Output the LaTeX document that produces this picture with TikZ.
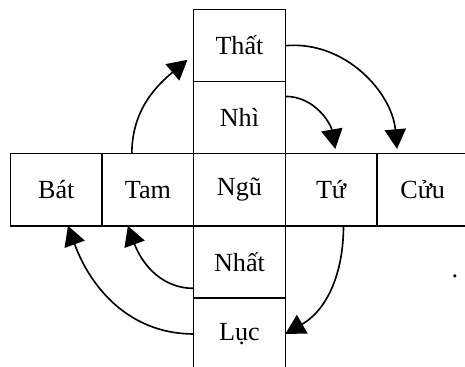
\documentclass[tikz,border=0pt]{standalone}
\usepackage{fontspec}
\setmainfont{Liberation Serif}
\usetikzlibrary{arrows.meta,positioning}

\begin{document}
\begin{tikzpicture}[font=\fontsize{16}{19}\selectfont,
  cell/.style={draw,line width=0.8pt,minimum width=1.97cm,
    minimum height=1.55cm,inner sep=0pt,outer sep=0pt},
  jump/.style={line width=1pt,-{Triangle[length=12pt,width=13pt]}}]
  \useasboundingbox (0,0) rectangle (10,7.892);
  % middle row
  \node[cell] (ngu) at (5.15,3.81) {Ngũ};
  \node[cell,left=0pt of ngu] (tam) {Tam};
  \node[cell,left=0pt of tam] (bat) {Bát};
  \node[cell,right=0pt of ngu] (tu) {Tứ};
  \node[cell,right=0pt of tu] (cuu) {Cửu};
  % middle column
  \node[cell,above=0pt of ngu] (nhi) {Nhì};
  \node[cell,above=0pt of nhi] (that) {Thất};
  \node[cell,below=0pt of ngu] (nhat) {Nhất};
  \node[cell,below=0pt of nhat] (luc) {Lục};
  \node (dot) at (9.78,1.95) {.};
  % moves
  \draw[jump,shorten >=5pt] (tam.114) to[out=90,in=220] (that.191);
  \draw[jump,shorten >=3pt] (that.east) to[out=5,in=95] (cuu.125);
  \draw[jump,shorten >=3pt] (nhi.25) to[out=0,in=100] (tu.82);
  \draw[jump] (tu.-71) to[out=-90,in=30] (luc.east);
  \draw[jump] (nhat.210) to[out=180,in=-70] (tam.241);
  \draw[jump] (luc.west) to[out=180,in=-70] (bat.288);
\end{tikzpicture}
\end{document}
